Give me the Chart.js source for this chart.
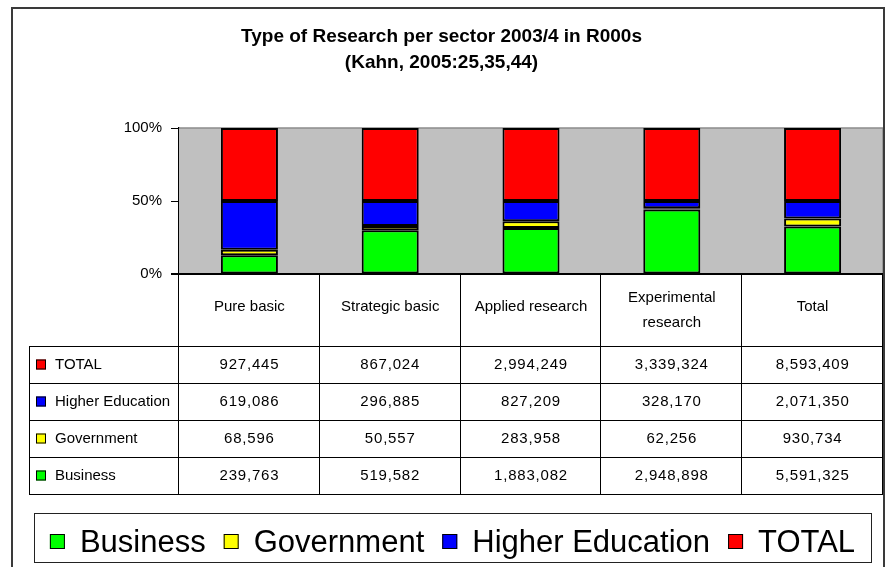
<!DOCTYPE html>
<html lang="en">
  <head>
    <meta charset="utf-8">
    <title>Type of Research per sector 2003/4</title>
    <script src="https://cdn.jsdelivr.net/npm/chart.js"></script>
    <style>
      body { margin: 0; background: #fff; }
      #chart { display: block; }
    </style>
  </head>
  <body>
    <canvas id="chart" width="890" height="567"></canvas>

    <script>
      // data (R000s)
      const categories = ['Pure basic', 'Strategic basic', 'Applied research', ['Experimental', 'research'], 'Total'];
      const business = [239763, 519582, 1883082, 2948898, 5591325];
      const government = [68596, 50557, 283958, 62256, 930734];
      const higherEducation = [619086, 296885, 827209, 328170, 2071350];
      const totalRow = [927445, 867024, 2994249, 3339324, 8593409];

      const seriesNames = ['Business', 'Government', 'Higher Education', 'TOTAL'];
      const seriesColors = ['#00FF00', '#FFFF00', '#0000FF', '#FF0000'];
      const yTicks = [0, 50, 100];

      const FONT = '"Liberation Sans", Arial, sans-serif';
      const allSeries = [business, government, higherEducation, totalRow];

      // 100% stacked, like the excel chart
      const toPercent = (series) => series.map((v, i) => {
        let sum = 0;
        allSeries.forEach(s => { sum += s[i]; });
        return v / sum * 100;
      });

      const fmt = (n) => n.toLocaleString('en-US');

      // grey plot background
      const plotBg = {
        id: 'plotBg',
        beforeDatasetsDraw(chart) {
          const { ctx, chartArea: a } = chart;
          ctx.save();
          ctx.fillStyle = '#C0C0C0';
          ctx.fillRect(a.left, a.top, a.right - a.left, a.bottom - a.top);
          ctx.strokeStyle = '#8C8C8C';
          ctx.lineWidth = 1.5;
          ctx.beginPath();
          ctx.moveTo(a.left, a.top);
          ctx.lineTo(a.right, a.top);
          ctx.lineTo(a.right, a.bottom);
          ctx.stroke();
          ctx.restore();
        }
      };

      // data table + legend box + outer frame
      const dataTable = {
        id: 'dataTable',
        afterDraw(chart) {
          const { ctx, chartArea: a } = chart;
          const xs = chart.scales.x;
          const cw = (a.right - a.left) / categories.length;
          const top = a.bottom;
          const headerH = 72;
          const rowH = 37;
          const tableLeft = 29;
          const bottom = top + headerH + rowH * 4;

          ctx.save();
          ctx.strokeStyle = '#000';
          ctx.lineWidth = 1;
          ctx.beginPath();
          for (let r = 0; r <= 4; r++) {
            const y = Math.round(top + headerH + r * rowH) + 0.5;
            ctx.moveTo(tableLeft, y);
            ctx.lineTo(a.right, y);
          }
          ctx.moveTo(tableLeft + 0.5, top + headerH);
          ctx.lineTo(tableLeft + 0.5, bottom);
          for (let k = 0; k <= categories.length; k++) {
            const x = Math.round(a.left + k * cw) - 0.5;
            ctx.moveTo(x, top);
            ctx.lineTo(x, bottom);
          }
          ctx.stroke();

          // axis line at 0%
          ctx.lineWidth = 2;
          ctx.beginPath();
          ctx.moveTo(a.left - 8, top);
          ctx.lineTo(a.right, top);
          ctx.stroke();

          ctx.fillStyle = '#000';
          ctx.textAlign = 'center';
          ctx.textBaseline = 'middle';
          ctx.font = '15px ' + FONT;
          categories.forEach((c, i) => {
            const cx = xs.getPixelForValue(i);
            const lines = Array.isArray(c) ? c : [c];
            const cy = lines.length > 1 ? top + 36 : top + 33;
            lines.forEach((l, j) => {
              ctx.fillText(l, cx, cy + (j - (lines.length - 1) / 2) * 25);
            });
          });

          // rows top to bottom: TOTAL, Higher Education, Government, Business
          const order = [3, 2, 1, 0];
          order.forEach((si, r) => {
            const cy = top + headerH + r * rowH + rowH / 2;
            ctx.fillStyle = seriesColors[si];
            ctx.fillRect(36, cy - 5, 10, 10);
            ctx.strokeStyle = '#000';
            ctx.lineWidth = 1;
            ctx.strokeRect(36.5, cy - 4.5, 9, 9);
            ctx.fillStyle = '#000';
            ctx.textAlign = 'left';
            ctx.letterSpacing = '0px';
            ctx.fillText(seriesNames[si], 55, cy);
            ctx.textAlign = 'center';
            ctx.letterSpacing = '0.8px';
            allSeries[si].forEach((v, i) => {
              ctx.fillText(fmt(v), xs.getPixelForValue(i), cy);
            });
            ctx.letterSpacing = '0px';
          });

          // legend
          const lgL = 34, lgT = 513, lgR = 871, lgB = 562;
          ctx.strokeStyle = '#222';
          ctx.lineWidth = 1;
          ctx.strokeRect(lgL + 0.5, lgT + 0.5, lgR - lgL, lgB - lgT);
          ctx.font = '31px ' + FONT;
          ctx.textAlign = 'left';
          ctx.textBaseline = 'alphabetic';
          const box = 15, g1 = 15, g2 = 18;
          const widths = seriesNames.map(n => ctx.measureText(n).width);
          let totalW = 0;
          widths.forEach(w => { totalW += box + g1 + w; });
          totalW += g2 * (seriesNames.length - 1);
          let lx = (lgL + lgR) / 2 - totalW / 2;
          const baseY = 552;
          seriesNames.forEach((n, i) => {
            ctx.fillStyle = seriesColors[i];
            ctx.fillRect(lx, baseY - 18, box, box);
            ctx.strokeStyle = '#000';
            ctx.strokeRect(lx + 0.5, baseY - 17.5, box - 1, box - 1);
            ctx.fillStyle = '#000';
            ctx.fillText(n, lx + box + g1, baseY);
            lx += box + g1 + widths[i] + g2;
          });

          // outer frame
          ctx.strokeStyle = '#3A3A3A';
          ctx.lineWidth = 2;
          ctx.strokeRect(12, 8, 872, 700);
          ctx.restore();
        }
      };

      const datasets = seriesNames.map((name, i) => ({
        label: name,
        data: toPercent(allSeries[i]),
        backgroundColor: seriesColors[i],
        borderColor: '#000',
        borderWidth: 2,
        borderSkipped: false,
        barPercentage: 0.405,
        categoryPercentage: 1
      }));

      new Chart(document.getElementById('chart'), {
        type: 'bar',
        data: { labels: categories, datasets: datasets },
        options: {
          responsive: false,
          animation: false,
          layout: { padding: { left: 0, right: 7, top: 0, bottom: 293 } },
          plugins: {
            legend: { display: false },
            tooltip: { enabled: false },
            title: {
              display: true,
              text: ['Type of Research per sector 2003/4 in R000s', '(Kahn, 2005:25,35,44)'],
              color: '#000',
              font: { family: FONT, size: 19, weight: 'bold', lineHeight: 26 / 19 },
              padding: { top: 24, bottom: 52 }
            }
          },
          scales: {
            x: { display: false, stacked: true },
            y: {
              stacked: true,
              min: 0,
              max: 100,
              afterFit(scale) { scale.width = 179; },
              afterBuildTicks(scale) { scale.ticks = yTicks.map(v => ({ value: v })); },
              ticks: {
                color: '#000',
                padding: 9,
                font: { family: FONT, size: 15 },
                callback: (v) => v + '%'
              },
              grid: { drawOnChartArea: false, drawTicks: true, tickLength: 8, color: '#000' },
              border: { display: true, color: '#000', width: 1.5 }
            }
          }
        },
        plugins: [plotBg, dataTable]
      });
    </script>
  </body>
</html>
